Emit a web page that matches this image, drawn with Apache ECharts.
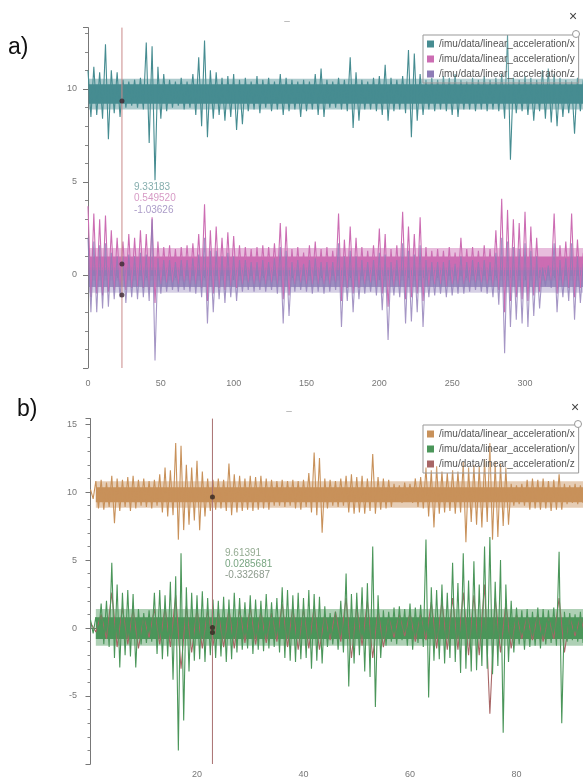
<!DOCTYPE html>
<html>
<head>
<meta charset="utf-8">
<script src="https://cdn.jsdelivr.net/npm/echarts@6/dist/echarts.min.js"></script>
<style>
html,body{margin:0;padding:0;background:#fff;}
#chart{width:583px;height:781px;}
</style>
</head>
<body>
<div id="chart"></div>
<script>
// ---------- Panel a) data (x step 4 s, envelope hi / lo of each signal) ----------
const A_STEP = 4;
const aX_hi = [11.0,11.2,10.9,12.4,11.0,10.9,10.5,10.4,10.5,10.6,12.5,12.3,11.2,10.8,10.5,10.4,10.6,10.4,10.8,11.7,12.6,11.0,10.9,10.6,10.7,10.8,10.5,10.6,10.4,10.7,10.5,10.6,10.4,10.8,10.6,10.5,10.4,10.5,10.4,10.8,11.1,10.5,10.4,10.6,10.5,11.7,10.9,10.5,10.4,10.6,10.7,11.3,10.6,10.5,10.7,12.1,11.9,10.8,10.5,10.6,10.5,10.7,10.6,10.8,10.5,10.4,10.6,10.5,10.7,10.5,10.6,10.8,12.9,10.6,10.5,10.7,10.6,10.5,11.0,11.1,10.8,10.6,10.5,10.4,10.6,10.5];
const aX_lo = [8.5,8.6,8.4,7.3,8.7,8.5,9.0,9.1,9.0,8.9,7.1,5.1,8.4,8.8,9.0,9.1,8.9,9.0,8.6,8.0,7.4,8.4,8.6,8.3,8.5,7.8,8.1,8.8,8.9,8.7,9.0,8.8,8.9,8.6,8.8,8.9,8.5,8.8,8.9,8.6,8.5,9.0,9.0,8.9,8.8,7.9,8.3,8.9,8.9,8.8,8.6,8.3,8.8,8.9,8.7,7.4,8.3,8.6,8.9,8.8,8.9,8.8,8.6,8.5,8.9,8.9,8.8,8.9,8.8,8.9,8.8,8.4,6.2,8.7,8.8,8.6,8.3,8.8,8.4,8.2,8.0,8.5,8.7,7.6,8.8,8.9];
const aY_hi = [3.7,3.3,3.0,3.2,2.4,2.0,1.8,2.2,2.0,2.4,2.2,3.1,1.8,1.5,1.6,1.4,1.5,1.6,1.7,2.2,3.8,2.4,2.6,2.0,2.3,2.1,1.6,1.5,1.4,1.5,1.6,1.5,1.7,2.8,2.6,1.4,1.5,1.2,1.6,1.8,1.4,1.5,1.3,3.3,1.9,2.6,2.0,1.5,1.3,1.6,2.5,2.2,1.4,1.6,3.4,2.6,2.2,3.1,1.5,1.3,1.4,1.3,1.5,1.2,2.0,1.4,1.5,1.3,1.6,1.4,2.4,4.1,3.5,3.0,2.8,3.4,2.6,2.0,0.8,0.9,3.3,1.6,1.8,3.3,1.9,1.2];
const aY_lo = [-1.2,-1.0,-1.1,-0.9,-0.8,-0.6,-0.8,-0.7,-0.6,-0.7,-0.8,-1.5,-0.5,-0.4,-0.4,-0.5,-0.4,-0.5,-0.5,-0.7,-1.4,-1.0,-0.7,-0.8,-0.6,-0.7,-0.5,-0.4,-0.5,-0.4,-0.5,-0.4,-0.5,-1.3,-1.1,-0.5,-0.4,-0.5,-0.5,-0.5,-0.5,-0.5,-0.4,-1.4,-0.7,-1.0,-0.7,-0.5,-0.4,-0.6,-1.0,-1.7,-0.6,-0.6,-1.3,-1.2,-1.0,-1.4,-0.6,-0.5,-0.5,-0.6,-0.5,-0.5,-0.5,-0.4,-0.4,-0.4,-0.5,-0.6,-0.8,-2.0,-1.4,-1.2,-1.3,-1.4,-1.1,-0.9,-0.3,-0.3,-1.0,-0.6,-0.7,-1.2,-0.7,-0.4];
const aZ_hi = [2.0,1.8,1.6,1.7,1.2,1.0,1.0,1.1,1.0,1.2,1.1,3.0,0.9,0.8,0.8,0.7,0.8,0.8,0.9,1.1,2.0,1.3,1.3,1.0,1.2,1.0,0.8,0.8,0.7,0.7,0.8,0.7,0.9,1.5,1.3,0.7,0.8,0.6,0.8,0.9,0.7,0.7,0.7,1.7,1.0,1.3,1.0,0.8,0.7,0.8,1.2,1.1,0.7,0.8,1.7,1.3,1.1,1.6,0.8,0.7,0.7,0.7,0.8,0.6,1.0,0.7,0.8,0.7,0.8,0.7,1.2,2.0,1.8,1.5,1.4,1.7,1.3,1.0,0.4,0.5,1.7,0.8,0.9,1.7,1.0,0.6];
const aZ_lo = [-2.0,-2.0,-1.8,-1.7,-1.3,-1.2,-1.5,-1.2,-1.3,-1.2,-1.4,-4.6,-1.0,-0.9,-0.8,-0.9,-0.8,-0.9,-1.0,-1.2,-2.6,-2.0,-1.3,-1.5,-1.2,-1.4,-0.9,-0.8,-0.9,-0.8,-0.9,-0.8,-1.0,-2.6,-2.2,-0.9,-0.8,-0.9,-1.0,-0.9,-1.0,-0.9,-0.8,-2.8,-1.4,-2.0,-1.3,-1.0,-0.9,-1.1,-1.9,-3.5,-1.1,-1.2,-2.6,-2.5,-2.0,-2.8,-1.2,-1.1,-1.0,-1.2,-1.1,-1.0,-1.0,-0.9,-0.8,-0.9,-1.0,-1.2,-1.6,-4.2,-2.8,-2.4,-2.6,-2.8,-2.2,-1.8,-0.6,-0.7,-2.0,-1.2,-1.4,-2.4,-1.5,-0.9];
// dense core of each band: inner solid [lo, hi] and outer fuzzy [lo, hi]
const aCore = {
  x: [[9.2, 10.25], [8.9, 10.55]],
  y: [[-0.05, 1.0], [-0.3, 1.45]],
  z: [[-0.65, 0.25], [-0.95, 0.4]]
};
const aCursor = 23.3;
const aCursorVals = [9.35, 0.59, -1.07];
const aCursorText = ['9.33183', '0.549520', '-1.03626'];
const aXTickLabels = [0, 50, 100, 150, 200, 250, 300];
const aYTickLabels = [0, 5, 10];

// ---------- Panel b) data (x step 1 s) ----------
const B_STEP = 1;
const bX_hi = [10.2,10.8,10.9,10.7,11.2,11.0,10.9,11.1,11.2,10.9,11.0,10.8,10.9,11.3,11.8,11.6,13.6,13.4,12.0,11.8,12.3,11.5,11.0,10.9,11.0,10.9,12.1,11.3,11.2,11.0,11.2,11.1,11.2,11.0,10.9,10.8,10.9,10.8,10.9,10.8,10.9,11.4,12.9,12.5,11.0,10.9,10.8,11.0,11.2,11.3,11.1,11.2,11.0,12.8,11.1,11.0,10.9,10.6,10.5,10.7,10.6,11.0,11.1,11.8,11.6,11.9,11.5,11.4,11.6,11.5,12.2,11.8,12.0,11.9,12.4,13.6,12.2,12.1,11.8,10.6,10.5,10.6,10.9,11.0,10.9,11.0,10.8,10.9,11.3,10.6,10.5,10.6,10.5,10.6];
const bX_lo = [9.5,8.8,8.7,8.9,7.7,8.6,8.9,8.6,8.8,9.0,8.9,8.8,9.0,8.5,8.2,8.3,6.5,7.2,7.6,7.9,7.2,8.2,8.6,8.7,8.8,8.6,8.3,8.5,8.6,8.7,8.6,8.7,8.8,8.7,9.0,9.0,8.9,9.0,8.8,8.7,8.9,8.5,8.3,7.0,8.8,9.0,8.9,9.0,8.5,8.4,8.5,8.4,8.6,8.4,8.7,8.8,8.9,9.3,9.2,9.3,9.2,8.9,8.8,8.2,7.4,8.4,8.5,8.6,8.4,8.5,6.3,7.8,7.6,7.4,7.8,6.5,6.7,7.5,7.6,9.0,9.1,9.0,8.7,8.8,8.7,8.8,8.6,8.7,8.7,9.1,9.2,9.1,9.2,9.1];
const bY_hi = [0.6,0.8,1.8,2.0,4.8,3.2,2.6,2.8,2.5,1.4,1.1,1.3,2.6,2.8,2.4,3.4,3.8,5.5,3.0,2.6,2.4,2.7,2.2,2.1,2.0,2.3,2.1,2.6,2.2,1.9,2.4,2.1,2.0,2.5,1.9,2.2,3.0,2.8,2.4,2.6,2.2,2.8,2.5,2.3,1.6,1.1,1.2,2.0,4.0,2.5,2.6,3.0,3.3,6.0,2.4,1.3,1.2,1.5,1.6,1.4,1.8,1.5,1.7,6.5,3.0,2.8,3.2,2.6,4.8,3.3,5.5,3.5,4.9,3.2,6.0,6.7,3.4,5.0,3.2,2.0,1.5,1.3,1.4,1.2,1.5,1.4,1.3,1.5,5.6,1.2,1.1,1.0,1.2,1.1];
const bY_lo = [-0.4,-0.6,-1.2,-1.4,-2.2,-2.9,-2.0,-2.1,-2.9,-1.2,-1.1,-1.0,-1.9,-2.3,-2.1,-3.8,-9.0,-6.8,-3.2,-2.4,-2.3,-2.5,-2.0,-2.2,-2.1,-2.5,-2.3,-1.8,-1.6,-1.5,-1.9,-1.6,-1.7,-1.5,-1.4,-1.8,-2.2,-2.4,-2.5,-2.3,-2.2,-3.0,-2.4,-2.6,-1.4,-1.2,-1.6,-1.8,-4.3,-2.6,-2.0,-3.2,-3.6,-5.8,-2.2,-1.3,-1.0,-1.2,-0.9,-1.3,-1.6,-1.1,-1.4,-5.1,-2.4,-2.3,-2.6,-2.2,-2.5,-3.3,-3.0,-3.2,-3.1,-2.8,-3.0,-3.4,-2.8,-7.7,-2.5,-1.8,-1.2,-1.6,-1.4,-1.3,-1.5,-1.2,-1.1,-1.3,-7.0,-1.0,-0.9,-1.0,-1.1,-1.0];
const BZ_STEP = 2;
const bZ_hi = [0.4,1.0,2.6,1.5,1.4,0.8,1.4,1.5,2.4,1.6,1.4,1.3,1.2,1.4,1.4,1.5,1.2,1.1,1.8,1.5,1.4,1.6,1.0,1.2,2.2,1.6,2.0,1.4,0.8,1.0,1.1,1.0,1.9,2.0,2.2,2.6,2.4,3.2,2.2,1.8,1.0,0.9,1.0,0.8,2.2,0.8,0.8];
const bZ_lo = [-0.3,-0.8,-1.4,-1.2,-1.5,-0.7,-1.2,-1.4,-3.0,-1.8,-1.5,-1.3,-1.4,-1.5,-1.1,-1.2,-1.1,-1.0,-1.4,-1.6,-1.5,-1.6,-0.9,-1.0,-2.2,-1.3,-2.2,-1.4,-0.7,-0.6,-1.0,-0.9,-1.5,-1.6,-1.6,-2.0,-2.0,-6.3,-1.8,-1.5,-0.8,-0.9,-1.0,-0.8,-1.8,-0.6,-0.7];
const bCore = {
  x: [[9.25, 10.35], [8.85, 10.8]],
  y: [[-0.8, 0.8], [-1.3, 1.4]]
};
const bCursor = 22.9;
const bCursorVals = [9.63, 0.03, -0.33];
const bCursorText = ['9.61391', '0.0285681', '-0.332687'];
const bXTickLabels = [20, 40, 60, 80];
const bYTickLabels = [-5, 0, 5, 10, 15];

const topicX = '/imu/data/linear_acceleration/x';
const topicY = '/imu/data/linear_acceleration/y';
const topicZ = '/imu/data/linear_acceleration/z';

const C = {
  aX: '#468c91', aY: '#cc6db3', aZ: '#8e7cb6',
  bX: '#c8915a', bY: '#4b965a', bZ: '#a86666'
};

function zig(hi, lo, step) {
  const out = [];
  for (let i = 0; i < hi.length; i++) {
    out.push([i * step, hi[i]]);
    out.push([i * step + step / 2, lo[i]]);
  }
  return out;
}

function sig(name, color, hi, lo, step, xi, core, xmin, xmax, opacity, z) {
  const s = {
    name: name, type: 'line', xAxisIndex: xi, yAxisIndex: xi,
    data: zig(hi, lo, step), symbol: 'none', animation: false,
    lineStyle: { width: 1.1, color: color, opacity: opacity },
    itemStyle: { color: color }, z: z, silent: true
  };
  if (core) {
    s.markArea = {
      silent: true,
      itemStyle: { color: color, opacity: opacity },
      data: [
        [{ xAxis: xmin, yAxis: core[1][0], itemStyle: { color: color, opacity: 0.45 * opacity } }, { xAxis: xmax, yAxis: core[1][1] }],
        [{ xAxis: xmin, yAxis: core[0][0], itemStyle: { color: color, opacity: opacity } }, { xAxis: xmax, yAxis: core[0][1] }]
      ]
    };
  }
  return s;
}

const axisCommon = {
  axisLine: { show: true, lineStyle: { color: '#777', width: 1 } },
  axisTick: { show: true, length: 5, lineStyle: { color: '#777' } },
  minorTick: { show: true, length: 3, lineStyle: { color: '#888' } },
  splitLine: { show: false },
  axisLabel: { color: '#777', fontSize: 9, fontFamily: 'Liberation Sans' }
};

function xax(idx, max, interval, split, showMin, labels, offset, margin) {
  return Object.assign({}, axisCommon, {
    gridIndex: idx, type: 'value', min: 0, max: max, interval: interval, offset: offset,
    minorTick: Object.assign({}, axisCommon.minorTick, { splitNumber: split }),
    axisLabel: Object.assign({}, axisCommon.axisLabel, {
      margin: margin, showMinLabel: showMin, showMaxLabel: false,
      formatter: v => labels.indexOf(v) >= 0 ? String(v) : ''
    })
  });
}
function yax(idx, min, max, labels, offset) {
  return Object.assign({}, axisCommon, {
    gridIndex: idx, type: 'value', min: min, max: max, interval: 5, offset: offset,
    minorTick: Object.assign({}, axisCommon.minorTick, { splitNumber: 5 }),
    axisLabel: Object.assign({}, axisCommon.axisLabel, {
      margin: 9, showMinLabel: false, showMaxLabel: false,
      formatter: v => labels.indexOf(v) >= 0 ? String(v) : ''
    })
  });
}

const legendCommon = {
  orient: 'vertical', icon: 'rect', itemWidth: 7, itemHeight: 7, itemGap: 5,
  padding: [4, 4], borderColor: '#999', borderWidth: 1, backgroundColor: 'rgba(255,255,255,0.15)',
  textStyle: { fontSize: 10, color: '#555', fontFamily: 'Liberation Sans' },
  formatter: n => n.slice(2), selectedMode: false
};

const chart = echarts.init(document.getElementById('chart'), null, { renderer: 'canvas' });

const series = [
  sig('a:' + topicX, C.aX, aX_hi, aX_lo, A_STEP, 0, aCore.x, 0.5, 340, 1, 2),
  sig('a:' + topicY, C.aY, aY_hi, aY_lo, A_STEP, 0, aCore.y, 0.5, 340, 1, 2),
  sig('a:' + topicZ, C.aZ, aZ_hi, aZ_lo, A_STEP, 0, aCore.z, 0.5, 340, 0.8, 3),
  sig('b:' + topicZ, C.bZ, bZ_hi, bZ_lo, BZ_STEP, 1, null, 0, 93, 1, 2),
  sig('b:' + topicX, C.bX, bX_hi, bX_lo, B_STEP, 1, bCore.x, 1, 93, 1, 2),
  sig('b:' + topicY, C.bY, bY_hi, bY_lo, B_STEP, 1, bCore.y, 1, 93, 1, 3),
  { type: 'line', xAxisIndex: 0, yAxisIndex: 0, data: [[aCursor, -5], [aCursor, 13.3]], symbol: 'none',
    lineStyle: { color: '#c98a8a', width: 1 }, z: 5, silent: true, animation: false },
  { type: 'line', xAxisIndex: 1, yAxisIndex: 1, data: [[bCursor, -10], [bCursor, 15.4]], symbol: 'none',
    lineStyle: { color: '#a87070', width: 1 }, z: 5, silent: true, animation: false },
  { type: 'scatter', xAxisIndex: 0, yAxisIndex: 0, data: aCursorVals.map(v => [aCursor, v]),
    symbolSize: 5, itemStyle: { color: '#3a2530' }, z: 6, silent: true, animation: false },
  { type: 'scatter', xAxisIndex: 1, yAxisIndex: 1, data: bCursorVals.map(v => [bCursor, v]),
    symbolSize: 5, itemStyle: { color: '#33261f' }, z: 6, silent: true, animation: false }
];

function txt(x, y, s, fill, size, align) {
  return { type: 'text', x: x, y: y, z: 50, silent: true,
    style: { text: s, fill: fill, fontSize: size, fontFamily: 'Liberation Sans',
      align: align || 'left', verticalAlign: 'middle', textAlign: align || 'left', textVerticalAlign: 'middle' } };
}

const aTextColors = ['#86aeae', '#d79bc6', '#ab9cc8'];
const bTextColors = ['#94ab92', '#79a682', '#8c9a8c'];

const graphic = [
  txt(8, 48, 'a)', '#111', 23),
  txt(17, 410, 'b)', '#111', 23),
  txt(287, 21, '–', '#aaa', 10, 'center'),
  txt(289, 411, '–', '#aaa', 10, 'center'),
  txt(573, 17, '×', '#444', 14, 'center'),
  txt(575, 408, '×', '#444', 14, 'center'),
  { type: 'circle', z: 60, silent: true, shape: { cx: 576, cy: 34, r: 3.5 }, style: { fill: '#fff', stroke: '#999', lineWidth: 1 } },
  { type: 'circle', z: 60, silent: true, shape: { cx: 578, cy: 424, r: 3.5 }, style: { fill: '#fff', stroke: '#999', lineWidth: 1 } }
];
aCursorText.forEach((t, i) => graphic.push(txt(134, 187 + i * 11.5, t, aTextColors[i], 10)));
bCursorText.forEach((t, i) => graphic.push(txt(225, 553 + i * 11, t, bTextColors[i], 10)));

chart.setOption({
  backgroundColor: '#fff',
  animation: false,
  grid: [
    { left: 88, top: 27.6, width: 509.85, height: 340.4, outerBoundsMode: 'none', containLabel: false },
    { left: 90.5, top: 418.6, width: 532.5, height: 345.4, outerBoundsMode: 'none', containLabel: false }
  ],
  xAxis: [
    xax(0, 350, 50, 5, true, aXTickLabels, 4, 7),
    xax(1, 100, 20, 4, false, bXTickLabels, 0, 6)
  ],
  yAxis: [
    yax(0, -5, 13.3, aYTickLabels, 2),
    yax(1, -10, 15.4, bYTickLabels, 4.5)
  ],
  legend: [
    Object.assign({}, legendCommon, { left: 423, top: 35, data: ['a:' + topicX, 'a:' + topicY, 'a:' + topicZ] }),
    Object.assign({}, legendCommon, { left: 423, top: 425, data: ['b:' + topicX, 'b:' + topicY, 'b:' + topicZ] })
  ],
  graphic: graphic,
  series: series
});
</script>
</body>
</html>
